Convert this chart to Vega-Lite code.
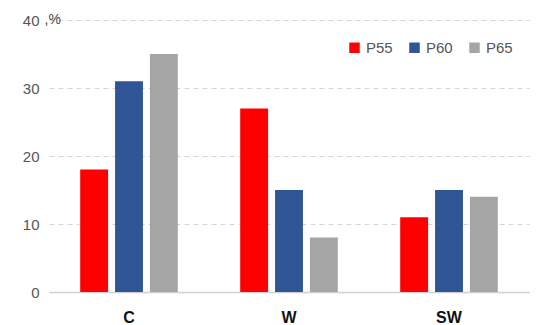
{
  "$schema": "https://vega.github.io/schema/vega-lite/v6.json",
  "width": 480,
  "height": 272,
  "autosize": {"type": "none"},
  "padding": {"left": 49, "top": 20, "right": 11, "bottom": 33},
  "background": "white",
  "data": {"values": [
    {"region": "C", "series": "P55", "value": 18},
    {"region": "C", "series": "P60", "value": 31},
    {"region": "C", "series": "P65", "value": 35},
    {"region": "W", "series": "P55", "value": 27},
    {"region": "W", "series": "P60", "value": 15},
    {"region": "W", "series": "P65", "value": 8},
    {"region": "SW", "series": "P55", "value": 11},
    {"region": "SW", "series": "P60", "value": 15},
    {"region": "SW", "series": "P65", "value": 14}
  ]},
  "config": {"view": {"stroke": null}, "font": "Liberation Sans"},
  "mark": {"type": "bar"},
  "encoding": {
    "x": {"field": "region", "type": "nominal", "sort": ["C", "W", "SW"],
      "scale": {"paddingInner": 0.39, "paddingOuter": 0.195},
      "axis": {"title": null, "labelAngle": 0, "labelFontWeight": "bold", "labelFontSize": 16, "labelColor": "#111", "labelPadding": 17, "ticks": false, "domainColor": "#d0d0d0", "domainWidth": 1.5}},
    "xOffset": {"field": "series", "type": "nominal", "scale": {"paddingInner": 0.2}},
    "y": {"field": "value", "type": "quantitative",
      "scale": {"domain": [0, 40]},
      "axis": {"values": [0, 10, 20, 30, 40], "title": ",%", "titleAngle": 0, "titleAlign": "left", "titleBaseline": "middle", "titleX": -5, "titleY": -1, "titleFontWeight": "normal", "titleFontSize": 14, "titleColor": "#444", "domain": false, "ticks": false, "labelFontSize": 15, "labelColor": "#555", "labelPadding": 10, "gridDash": [5, 4], "gridColor": "#d5d5d5"}},
    "color": {"field": "series", "type": "nominal",
      "scale": {"domain": ["P55", "P60", "P65"], "range": ["#ff0000", "#2f5597", "#a5a5a5"]},
      "legend": {"title": null, "orient": "none", "legendX": 298, "legendY": 20, "direction": "horizontal", "symbolType": "square", "symbolSize": 110, "labelFontSize": 15, "labelColor": "#555", "columnPadding": 14}}
  }
}
